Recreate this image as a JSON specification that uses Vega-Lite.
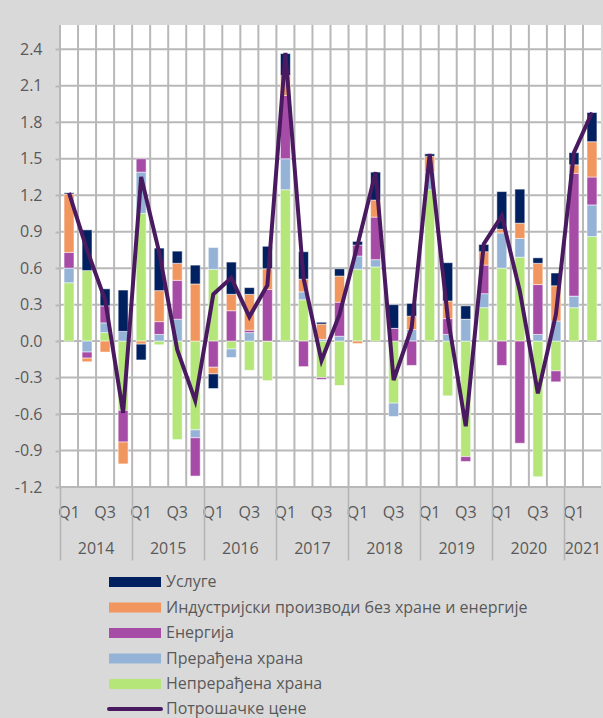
{
  "$schema": "https://vega.github.io/schema/vega-lite/v6.json",
  "width": 541,
  "height": 462,
  "autosize": {"type": "none"},
  "padding": {"left": 60, "top": 25, "right": 2, "bottom": 231},
  "background": "#d9d9d9",
  "config": {
    "view": {"stroke": null, "fill": "#ffffff"},
    "font": "Open Sans",
    "legend": {"padding": 0}
  },
  "datasets": {
    "components": [
      {"k": "Непрерађена храна", "rank": 1},
      {"k": "Прерађена храна", "rank": 2},
      {"k": "Енергија", "rank": 3},
      {"k": "Индустријски производи без хране и енергије", "rank": 4},
      {"k": "Услуге", "rank": 5}
    ],
    "ygrid": [
      {"g": -1.2}, {"g": -0.9}, {"g": -0.6}, {"g": -0.3}, {"g": 0}, {"g": 0.3}, {"g": 0.6},
      {"g": 0.9}, {"g": 1.2}, {"g": 1.5}, {"g": 1.8}, {"g": 2.1}, {"g": 2.4}
    ]
  },
  "data": {
    "values": [
      {"q": "2014 Q1", "Непрерађена храна": 0.48, "Прерађена храна": 0.12, "Енергија": 0.13, "Индустријски производи без хране и енергије": 0.48, "Услуге": 0.01, "Потрошачке цене": 1.22},
      {"q": "2014 Q2", "Непрерађена храна": 0.58, "Прерађена храна": -0.09, "Енергија": -0.05, "Индустријски производи без хране и енергије": -0.03, "Услуге": 0.335, "Потрошачке цене": 0.75},
      {"q": "2014 Q3", "Непрерађена храна": 0.07, "Прерађена храна": 0.08, "Енергија": 0.14, "Индустријски производи без хране и енергије": -0.09, "Услуге": 0.14, "Потрошачке цене": 0.34},
      {"q": "2014 Q4", "Непрерађена храна": -0.57, "Прерађена храна": 0.08, "Енергија": -0.26, "Индустријски производи без хране и енергије": -0.18, "Услуге": 0.34, "Потрошачке цене": -0.59},
      {"q": "2015 Q1", "Непрерађена храна": 1.05, "Прерађена храна": 0.34, "Енергија": 0.11, "Индустријски производи без хране и енергије": -0.025, "Услуге": -0.13, "Потрошачке цене": 1.35},
      {"q": "2015 Q2", "Непрерађена храна": -0.03, "Прерађена храна": 0.055, "Енергија": 0.105, "Индустријски производи без хране и енергије": 0.255, "Услуге": 0.35, "Потрошачке цене": 0.73},
      {"q": "2015 Q3", "Непрерађена храна": -0.81, "Прерађена храна": 0.18, "Енергија": 0.32, "Индустријски производи без хране и енергије": 0.14, "Услуге": 0.10, "Потрошачке цене": -0.07},
      {"q": "2015 Q4", "Непрерађена храна": -0.73, "Прерађена храна": -0.065, "Енергија": -0.315, "Индустријски производи без хране и енергије": 0.47, "Услуге": 0.155, "Потрошачке цене": -0.49},
      {"q": "2016 Q1", "Непрерађена храна": 0.59, "Прерађена храна": 0.18, "Енергија": -0.215, "Индустријски производи без хране и енергије": -0.055, "Услуге": -0.12, "Потрошачке цене": 0.385},
      {"q": "2016 Q2", "Непрерађена храна": -0.065, "Прерађена храна": -0.07, "Енергија": 0.25, "Индустријски производи без хране и енергије": 0.135, "Услуге": 0.265, "Потрошачке цене": 0.52},
      {"q": "2016 Q3", "Непрерађена храна": -0.24, "Прерађена храна": 0.07, "Енергија": 0.02, "Индустријски производи без хране и енергије": 0.295, "Услуге": 0.055, "Потрошачке цене": 0.20},
      {"q": "2016 Q4", "Непрерађена храна": -0.325, "Прерађена храна": 0.0, "Енергија": 0.425, "Индустријски производи без хране и енергије": 0.17, "Услуге": 0.185, "Потрошачке цене": 0.46},
      {"q": "2017 Q1", "Непрерађена храна": 1.245, "Прерађена храна": 0.255, "Енергија": 0.52, "Индустријски производи без хране и енергије": 0.165, "Услуге": 0.18, "Потрошачке цене": 2.37},
      {"q": "2017 Q2", "Непрерађена храна": 0.34, "Прерађена храна": 0.065, "Енергија": -0.21, "Индустријски производи без хране и енергије": 0.105, "Услуге": 0.225, "Потрошачке цене": 0.52},
      {"q": "2017 Q3", "Непрерађена храна": -0.30, "Прерађена храна": 0.015, "Енергија": -0.015, "Индустријски производи без хране и енергије": 0.125, "Услуге": 0.015, "Потрошачке цене": -0.16},
      {"q": "2017 Q4", "Непрерађена храна": -0.365, "Прерађена храна": 0.04, "Енергија": 0.28, "Индустријски производи без хране и енергије": 0.215, "Услуге": 0.06, "Потрошачке цене": 0.22},
      {"q": "2018 Q1", "Непрерађена храна": 0.59, "Прерађена храна": 0.11, "Енергија": 0.09, "Индустријски производи без хране и енергије": -0.02, "Услуге": 0.03, "Потрошачке цене": 0.79},
      {"q": "2018 Q2", "Непрерађена храна": 0.61, "Прерађена храна": 0.06, "Енергија": 0.35, "Индустријски производи без хране и енергије": 0.14, "Услуге": 0.23, "Потрошачке цене": 1.39},
      {"q": "2018 Q3", "Непрерађена храна": -0.51, "Прерађена храна": -0.11, "Енергија": 0.105, "Индустријски производи без хране и енергије": 0.0, "Услуге": 0.195, "Потрошачке цене": -0.32},
      {"q": "2018 Q4", "Непрерађена храна": 0.0, "Прерађена храна": 0.095, "Енергија": -0.20, "Индустријски производи без хране и енергије": 0.11, "Услуге": 0.105, "Потрошачке цене": 0.11},
      {"q": "2019 Q1", "Непрерађена храна": 1.245, "Прерађена храна": 0.145, "Енергија": 0.0, "Индустријски производи без хране и енергије": 0.13, "Услуге": 0.02, "Потрошачке цене": 1.54},
      {"q": "2019 Q2", "Непрерађена храна": -0.45, "Прерађена храна": 0.055, "Енергија": 0.13, "Индустријски производи без хране и енергије": 0.145, "Услуге": 0.315, "Потрошачке цене": 0.20},
      {"q": "2019 Q3", "Непрерађена храна": -0.95, "Прерађена храна": 0.18, "Енергија": -0.04, "Индустријски производи без хране и енергије": 0.0, "Услуге": 0.11, "Потрошачке цене": -0.70},
      {"q": "2019 Q4", "Непрерађена храна": 0.275, "Прерађена храна": 0.115, "Енергија": 0.235, "Индустријски производи без хране и енергије": 0.11, "Услуге": 0.06, "Потрошачке цене": 0.80},
      {"q": "2020 Q1", "Непрерађена храна": 0.60, "Прерађена храна": 0.29, "Енергија": -0.20, "Индустријски производи без хране и енергије": 0.03, "Услуге": 0.31, "Потрошачке цене": 1.03},
      {"q": "2020 Q2", "Непрерађена храна": 0.69, "Прерађена храна": 0.155, "Енергија": -0.84, "Индустријски производи без хране и енергије": 0.125, "Услуге": 0.28, "Потрошачке цене": 0.41},
      {"q": "2020 Q3", "Непрерађена храна": -1.115, "Прерађена храна": 0.055, "Енергија": 0.41, "Индустријски производи без хране и енергије": 0.175, "Услуге": 0.045, "Потрошачке цене": -0.43},
      {"q": "2020 Q4", "Непрерађена храна": -0.245, "Прерађена храна": 0.165, "Енергија": -0.09, "Индустријски производи без хране и енергије": 0.29, "Услуге": 0.105, "Потрошачке цене": 0.22},
      {"q": "2021 Q1", "Непрерађена храна": 0.275, "Прерађена храна": 0.095, "Енергија": 1.01, "Индустријски производи без хране и енергије": 0.07, "Услуге": 0.10, "Потрошачке цене": 1.55},
      {"q": "2021 Q2", "Непрерађена храна": 0.86, "Прерађена храна": 0.26, "Енергија": 0.23, "Индустријски производи без хране и енергије": 0.29, "Услуге": 0.24, "Потрошачке цене": 1.88}
    ]
  },
  "layer": [
    {
      "mark": {"type": "rule", "stroke": "#b8b8b8", "strokeWidth": 2, "opacity": 1},
      "encoding": {
        "x": {"field": "q", "type": "nominal", "sort": null, "bandPosition": 0, "axis": null}
      }
    },
    {
      "data": {"name": "ygrid"},
      "mark": {"type": "rule", "stroke": "#b8b8b8", "strokeWidth": 2, "opacity": 1},
      "encoding": {
        "y": {
          "field": "g", "type": "quantitative",
          "axis": {
            "title": null, "domain": false, "grid": false,
            "values": [-1.2, -0.9, -0.6, -0.3, 0, 0.3, 0.6, 0.9, 1.2, 1.5, 1.8, 2.1, 2.4],
            "ticks": true, "tickSize": 5, "tickColor": "#b8b8b8", "tickWidth": 2,
            "labelExpr": "(datum.value < 0 ? '-' : '') + format(abs(datum.value), '.1f')",
            "labelFontSize": 16, "labelColor": "#595959", "labelPadding": 13, "labelOverlap": false
          }
        }
      }
    },
    {
      "transform": [
        {"fold": ["Непрерађена храна", "Прерађена храна", "Енергија", "Индустријски производи без хране и енергије", "Услуге"], "as": ["k", "v"]},
        {"lookup": "k", "from": {"data": {"name": "components"}, "key": "k", "fields": ["rank"]}}
      ],
      "mark": {"type": "bar", "width": {"band": 0.55}, "stroke": "#ffffff", "strokeWidth": 0.5},
      "encoding": {
        "x": {
          "field": "q", "type": "nominal", "sort": null,
          "scale": {"paddingInner": 0, "paddingOuter": 0},
          "axis": {
            "orient": "bottom", "title": null, "domain": false, "ticks": false, "tickSize": 0, "grid": false,
            "labelAngle": 0,
            "labelExpr": "(indexof(datum.value, 'Q1') > 0 || indexof(datum.value, 'Q3') > 0) ? slice(datum.value, 5) : ''",
            "labelFontSize": 16, "labelColor": "#595959", "labelPadding": 25, "labelBaseline": "middle",
            "labelOverlap": false, "labelBound": false, "labelFlush": false
          }
        },
        "y": {
          "field": "v", "type": "quantitative", "stack": "zero",
          "scale": {"domain": [-1.2, 2.6], "nice": false, "zero": false},
          "axis": {
            "title": null, "domain": false, "grid": false,
            "values": [-1.2, -0.9, -0.6, -0.3, 0, 0.3, 0.6, 0.9, 1.2, 1.5, 1.8, 2.1, 2.4],
            "ticks": true, "tickSize": 5, "tickColor": "#b8b8b8", "tickWidth": 2,
            "labelExpr": "(datum.value < 0 ? '-' : '') + format(abs(datum.value), '.1f')",
            "labelFontSize": 16, "labelColor": "#595959", "labelPadding": 13, "labelOverlap": false
          }
        },
        "color": {
          "field": "k", "type": "nominal",
          "scale": {
            "domain": ["Услуге", "Индустријски производи без хране и енергије", "Енергија", "Прерађена храна", "Непрерађена храна"],
            "range": ["#002060", "#f0965e", "#a64ca6", "#95b3d7", "#b4e67a"]
          },
          "legend": {
            "orient": "none", "legendX": 67, "legendY": 549, "title": null,
            "symbolType": "M-5.2,-1H5.2V1H-5.2Z", "symbolSize": 100, "symbolStrokeWidth": 0,
            "labelFontSize": 16, "labelColor": "#595959", "labelOffset": 23, "labelLimit": 600,
            "rowPadding": 9.5, "padding": 0
          }
        },
        "order": {"field": "rank", "type": "quantitative", "sort": "ascending"}
      }
    },
    {
      "transform": [
        {"fold": ["Потрошачке цене"], "as": ["s", "c"]}
      ],
      "mark": {"type": "line", "strokeWidth": 4},
      "encoding": {
        "x": {
          "field": "q", "type": "nominal", "sort": null,
          "axis": {
            "orient": "bottom", "title": null, "domain": false, "bandPosition": 0, "grid": false,
            "ticks": true, "tickSize": 73, "tickColor": "#b3b3b3", "tickWidth": 1.5,
            "tickOpacity": {"condition": {"test": "indexof(datum.value, 'Q1') > 0", "value": 1}, "value": 0},
            "labelAngle": 0,
            "labelExpr": "((indexof(datum.value, 'Q2') > 0 && indexof(datum.value, '2021') < 0) || datum.value == '2021 Q1') ? slice(datum.value, 0, 4) : ''",
            "labelOffset": 9, "labelPadding": -12, "labelBaseline": "middle",
            "labelFontSize": 16, "labelColor": "#595959",
            "labelOverlap": false, "labelBound": false, "labelFlush": false
          }
        },
        "y": {
          "field": "c", "type": "quantitative",
          "axis": {
            "title": null, "domain": false, "grid": false,
            "values": [-1.2, -0.9, -0.6, -0.3, 0, 0.3, 0.6, 0.9, 1.2, 1.5, 1.8, 2.1, 2.4],
            "ticks": true, "tickSize": 5, "tickColor": "#b8b8b8", "tickWidth": 2,
            "labelExpr": "(datum.value < 0 ? '-' : '') + format(abs(datum.value), '.1f')",
            "labelFontSize": 16, "labelColor": "#595959", "labelPadding": 13, "labelOverlap": false
          }
        },
        "stroke": {
          "field": "s", "type": "nominal",
          "scale": {"range": ["#4a1a60"]},
          "legend": {
            "orient": "none", "legendX": 67, "legendY": 676, "title": null,
            "symbolType": "M-5.2,0H5.2", "symbolSize": 100, "symbolStrokeWidth": 4,
            "labelFontSize": 16, "labelColor": "#595959", "labelOffset": 23, "labelLimit": 600,
            "padding": 0,
            "encode": {"symbols": {"update": {"strokeCap": {"value": "round"}}}}
          }
        }
      }
    }
  ],
  "resolve": {"axis": {"x": "independent"}}
}
